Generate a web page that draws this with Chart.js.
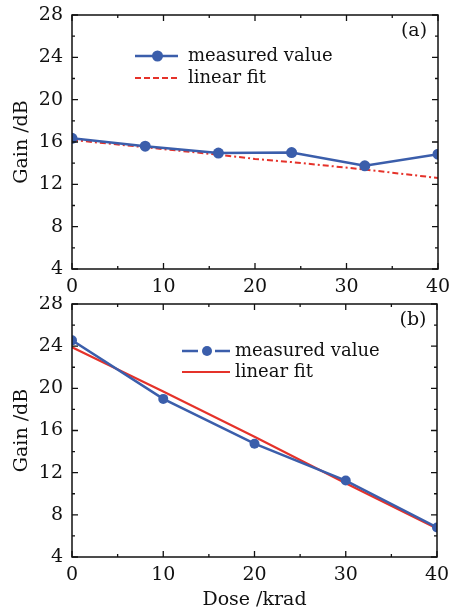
<!DOCTYPE html>
<html>
<head>
<meta charset="utf-8">
<script src="https://cdn.jsdelivr.net/npm/chart.js@4/dist/chart.umd.min.js"></script>
<style>
  body { margin: 0; background: #fff; }
  #wrap { position: relative; width: 460px; height: 608px; }
  canvas { position: absolute; left: 0; }
</style>
</head>
<body>
<div id="wrap">
  <canvas id="chartA" width="460" height="296" style="top:0"></canvas>
  <canvas id="chartB" width="460" height="312" style="top:296px"></canvas>
</div>
<script>
// panel (a)
const doseA = [0, 8, 16, 24, 32, 40];
const measuredA = [16.35, 15.6, 14.95, 15.0, 13.75, 14.85];
const fitDoseA = [0, 8, 16, 20, 24, 32, 40];
const fitA = [16.2, 15.5, 14.8, 14.4, 14.1, 13.4, 12.6];
// panel (b)
const doseB = [0, 10, 20, 30, 40];
const measuredB = [24.55, 19.0, 14.75, 11.25, 6.8];
const fitB = [23.9, 19.7, 15.4, 11.0, 6.7];
// axes
const xTicks = [0, 10, 20, 30, 40];
const yTicks = [4, 8, 12, 16, 20, 24, 28];

const BLUE = '#3b5eab';
const RED = '#e5322a';
const FONT = "'DejaVu Serif', serif";

function pts(xs, ys) {
    return xs.map((x, i) => ({ x: x, y: ys[i] }));
}

// frame, inward ticks, labels and legend
const framePlugin = {
    id: 'frame',
    afterDraw(chart, args, opts) {
        const ctx = chart.ctx;
        const a = chart.chartArea;
        const xs = chart.scales.x, ys = chart.scales.y;
        ctx.save();
        ctx.strokeStyle = '#111';
        ctx.lineWidth = 1.5;
        ctx.strokeRect(a.left, a.top, a.right - a.left, a.bottom - a.top);
        ctx.lineWidth = 1.3;
        ctx.beginPath();
        for (let v = xs.min; v <= xs.max; v += 5) {
            const p = xs.getPixelForValue(v);
            const len = v % 10 === 0 ? 6 : 3;
            ctx.moveTo(p, a.bottom); ctx.lineTo(p, a.bottom - len);
            ctx.moveTo(p, a.top); ctx.lineTo(p, a.top + len);
        }
        for (let v = ys.min; v <= ys.max; v += 2) {
            const p = ys.getPixelForValue(v);
            const len = v % 4 === 0 ? 6 : 3;
            ctx.moveTo(a.left, p); ctx.lineTo(a.left + len, p);
            ctx.moveTo(a.right, p); ctx.lineTo(a.right - len, p);
        }
        ctx.stroke();

        ctx.fillStyle = '#111';
        ctx.font = '19px ' + FONT;
        ctx.textAlign = 'center';
        ctx.textBaseline = 'middle';
        ctx.fillText(opts.tag, a.right - 24, a.top + 16);

        // y title
        ctx.save();
        ctx.translate(22, (a.top + a.bottom) / 2);
        ctx.rotate(-Math.PI / 2);
        ctx.fillText('Gain /dB', 0, 0);
        ctx.restore();

        if (opts.xTitle) {
            ctx.font = '19px ' + FONT;
            ctx.fillText(opts.xTitle, (a.left + a.right) / 2, chart.height - 8);
        }

        // legend
        const lg = opts.legend;
        ctx.font = '18px ' + FONT;
        ctx.textAlign = 'left';
        lg.items.forEach((it, i) => {
            const y = a.top + lg.y + i * lg.gap;
            const ds = chart.data.datasets[i];
            ctx.strokeStyle = ds.borderColor;
            ctx.lineWidth = ds.borderWidth;
            ctx.setLineDash(it.dash || []);
            ctx.beginPath();
            if (it.split) {
                ctx.moveTo(lg.x, y); ctx.lineTo(lg.x + 16, y);
                ctx.moveTo(lg.x + 33, y); ctx.lineTo(lg.x + lg.w, y);
            } else {
                ctx.moveTo(lg.x, y); ctx.lineTo(lg.x + lg.w, y);
            }
            ctx.stroke();
            ctx.setLineDash([]);
            if (ds.pointRadius > 0) {
                ctx.fillStyle = ds.borderColor;
                ctx.beginPath();
                ctx.arc(lg.x + lg.w / 2 + 1, y, ds.pointRadius, 0, Math.PI * 2);
                ctx.fill();
            }
            ctx.fillStyle = '#111';
            ctx.fillText(it.label, lg.tx, y);
        });
        ctx.restore();
    }
};

function makeChart(id, datasets, o) {
    return new Chart(document.getElementById(id), {
        type: 'line',
        data: { datasets: datasets },
        options: {
            responsive: false,
            devicePixelRatio: 1,
            animation: false,
            layout: { padding: { top: o.top, right: o.right, left: 0, bottom: 0 } },
            plugins: {
                legend: { display: false },
                tooltip: { enabled: false },
                frame: o.frame
            },
            scales: {
                x: {
                    type: 'linear', min: 0, max: 40,
                    afterBuildTicks: s => { s.ticks = xTicks.map(v => ({ value: v })); },
                    afterFit: s => { s.height = o.xh; s.paddingLeft = 0; s.paddingRight = 0; },
                    grid: { display: false, drawTicks: false },
                    border: { display: false },
                    ticks: { color: '#111', padding: 7, maxRotation: 0, font: { family: FONT, size: 19 } }
                },
                y: {
                    min: 4, max: 28,
                    afterBuildTicks: s => { s.ticks = yTicks.map(v => ({ value: v })); },
                    afterFit: s => { s.width = 72; s.paddingTop = 0; s.paddingBottom = 0; },
                    grid: { display: false, drawTicks: false },
                    border: { display: false },
                    ticks: { color: '#111', padding: 9, font: { family: FONT, size: 19 } }
                }
            }
        },
        plugins: [framePlugin]
    });
}

makeChart('chartA', [
    {
        data: pts(doseA, measuredA), borderColor: BLUE, backgroundColor: BLUE,
        borderWidth: 2.5, pointRadius: 5.5, pointBorderWidth: 0, tension: 0
    },
    {
        data: pts(fitDoseA, fitA), borderColor: RED, borderWidth: 2,
        borderDash: [6, 3, 2, 3], pointRadius: 0, tension: 0
    }
], {
    top: 15, right: 22, xh: 27,
    frame: {
        tag: '(a)',
        legend: { x: 135, y: 41, w: 43, tx: 188, gap: 22, items: [
            { label: 'measured value' },
            { label: 'linear fit', dash: [6, 3] }
        ] }
    }
});

makeChart('chartB', [
    {
        data: pts(doseB, measuredB), borderColor: BLUE, backgroundColor: BLUE,
        borderWidth: 2.5, pointRadius: 5, pointBorderWidth: 0, tension: 0
    },
    {
        data: pts(doseB, fitB), borderColor: RED, borderWidth: 2.2,
        pointRadius: 0, tension: 0
    }
], {
    top: 8, right: 23, xh: 51,
    frame: {
        tag: '(b)',
        xTitle: 'Dose /krad',
        legend: { x: 182, y: 47, w: 48, tx: 235, gap: 21, items: [
            { label: 'measured value', split: true },
            { label: 'linear fit' }
        ] }
    }
});
</script>
</body>
</html>
